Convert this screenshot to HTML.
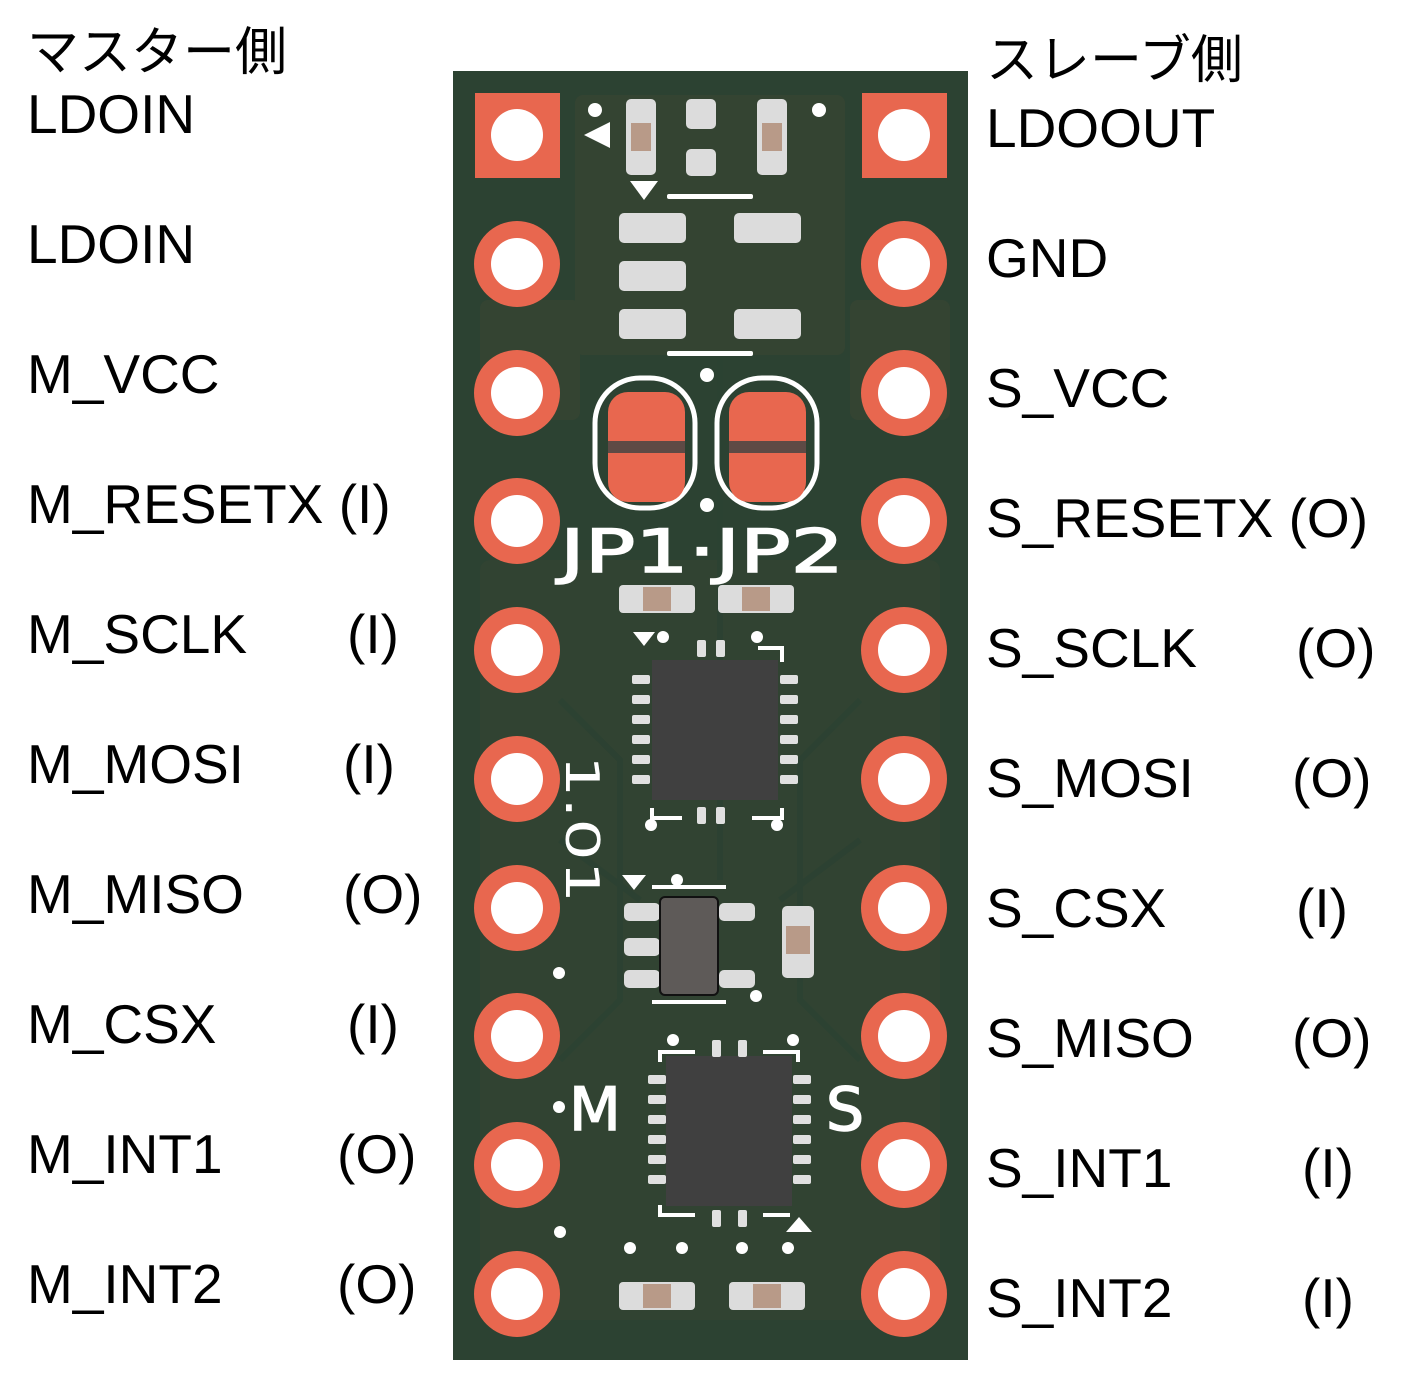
<!DOCTYPE html>
<html><head><meta charset="utf-8"><style>
html,body{margin:0;padding:0;background:#fff;}
body{width:1402px;height:1387px;position:relative;overflow:hidden;font-family:"Liberation Sans","Noto Sans CJK JP",sans-serif;}
.t{position:absolute;font-size:55px;line-height:1;color:#000;white-space:pre;}
svg{position:absolute;left:0;top:0;}
</style></head><body>
<svg width="1402" height="1387" viewBox="0 0 1402 1387">
<rect x="453" y="71" width="515" height="1289" fill="#2c4232"/>
<g fill="#3b4632" opacity="0.6">
<rect x="575" y="95" width="270" height="260" rx="8"/>
<rect x="480" y="300" width="100" height="120" rx="8"/>
<rect x="850" y="300" width="100" height="120" rx="8"/>
<rect x="480" y="560" width="460" height="760" rx="10" opacity="0.6"/>
</g>
<g stroke="#2c4232" stroke-width="6" fill="none" opacity="0.8">
<path d="M560 700 L620 760 L620 1000 L560 1060"/><path d="M860 700 L800 760 L800 1000 L860 1060"/>
<path d="M720 360 L720 880"/><path d="M560 840 L640 900"/><path d="M860 840 L780 900"/>
</g>
<g>
<rect x="475" y="93" width="85" height="85" fill="#e8674f"/>
<circle cx="517" cy="135" r="26" fill="#fff"/>
<rect x="862" y="93" width="85" height="85" fill="#e8674f"/>
<circle cx="904" cy="135" r="26" fill="#fff"/>
</g>
<g fill="#e8674f">
<circle cx="517" cy="264" r="43"/><circle cx="904" cy="264" r="43"/>
<circle cx="517" cy="393" r="43"/><circle cx="904" cy="393" r="43"/>
<circle cx="517" cy="521" r="43"/><circle cx="904" cy="521" r="43"/>
<circle cx="517" cy="650" r="43"/><circle cx="904" cy="650" r="43"/>
<circle cx="517" cy="779" r="43"/><circle cx="904" cy="779" r="43"/>
<circle cx="517" cy="908" r="43"/><circle cx="904" cy="908" r="43"/>
<circle cx="517" cy="1036" r="43"/><circle cx="904" cy="1036" r="43"/>
<circle cx="517" cy="1165" r="43"/><circle cx="904" cy="1165" r="43"/>
<circle cx="517" cy="1294" r="43"/><circle cx="904" cy="1294" r="43"/>
</g>
<g fill="#fff">
<circle cx="517" cy="264" r="26"/><circle cx="904" cy="264" r="26"/>
<circle cx="517" cy="393" r="26"/><circle cx="904" cy="393" r="26"/>
<circle cx="517" cy="521" r="26"/><circle cx="904" cy="521" r="26"/>
<circle cx="517" cy="650" r="26"/><circle cx="904" cy="650" r="26"/>
<circle cx="517" cy="779" r="26"/><circle cx="904" cy="779" r="26"/>
<circle cx="517" cy="908" r="26"/><circle cx="904" cy="908" r="26"/>
<circle cx="517" cy="1036" r="26"/><circle cx="904" cy="1036" r="26"/>
<circle cx="517" cy="1165" r="26"/><circle cx="904" cy="1165" r="26"/>
<circle cx="517" cy="1294" r="26"/><circle cx="904" cy="1294" r="26"/>
</g>
<g fill="#dcdcdc">
<rect x="626" y="99" width="30" height="76" rx="5"/>
<rect x="686" y="99" width="30" height="30" rx="5"/><rect x="686" y="149" width="30" height="27" rx="5"/>
<rect x="757" y="99" width="30" height="76" rx="5"/>
<rect x="619" y="213" width="67" height="30" rx="5"/><rect x="734" y="213" width="67" height="30" rx="5"/>
<rect x="619" y="261" width="67" height="30" rx="5"/>
<rect x="619" y="309" width="67" height="30" rx="5"/><rect x="734" y="309" width="67" height="30" rx="5"/>
</g>
<rect x="631" y="123" width="20" height="28" fill="#b89a88"/>
<rect x="762" y="123" width="20" height="28" fill="#b89a88"/>
<g fill="#fff">
<circle cx="595" cy="110" r="7"/><circle cx="819" cy="110" r="7"/>
<path d="M584 135 L610 122 L610 148 Z"/>
<path d="M630 181 L658 181 L644 200 Z"/>
<rect x="667" y="194" width="86" height="5" rx="2"/>
<rect x="667" y="351" width="86" height="5" rx="2"/>
<circle cx="707" cy="375" r="7"/><circle cx="707" cy="505" r="7"/>
</g>
<g fill="none" stroke="#fff" stroke-width="5">
<rect x="595" y="378" width="100" height="130" rx="45"/>
<rect x="717" y="378" width="100" height="130" rx="45"/>
</g>
<rect x="608" y="392" width="77" height="110" rx="20" fill="#e8674f"/>
<rect x="729" y="392" width="77" height="110" rx="20" fill="#e8674f"/>
<rect x="608" y="441" width="77" height="12" fill="#5e4a45"/>
<rect x="729" y="441" width="77" height="12" fill="#5e4a45"/>
<text x="560" y="572" font-family="DejaVu Sans, sans-serif" font-size="60" fill="#fff" stroke="#fff" stroke-width="1.5" textLength="284" lengthAdjust="spacingAndGlyphs">JP1·JP2</text>
<g>
<rect x="619" y="585" width="76" height="28" rx="4" fill="#dcdcdc"/><rect x="643" y="587" width="28" height="24" fill="#b89a88"/>
<rect x="718" y="585" width="76" height="28" rx="4" fill="#dcdcdc"/><rect x="742" y="587" width="28" height="24" fill="#b89a88"/>
<rect x="619" y="1282" width="76" height="28" rx="4" fill="#dcdcdc"/><rect x="643" y="1284" width="28" height="24" fill="#b89a88"/>
<rect x="729" y="1282" width="76" height="28" rx="4" fill="#dcdcdc"/><rect x="753" y="1284" width="28" height="24" fill="#b89a88"/>
<rect x="782" y="906" width="32" height="72" rx="5" fill="#dcdcdc"/><rect x="786" y="926" width="24" height="28" fill="#b89a88"/>
</g>
<rect x="652" y="660" width="126" height="140" fill="#404040"/>
<g fill="#e0e0e0">
<rect x="632" y="675" width="18" height="9" rx="2"/><rect x="632" y="695" width="18" height="9" rx="2"/><rect x="632" y="715" width="18" height="9" rx="2"/><rect x="632" y="735" width="18" height="9" rx="2"/><rect x="632" y="755" width="18" height="9" rx="2"/><rect x="632" y="775" width="18" height="9" rx="2"/>
<rect x="780" y="675" width="18" height="9" rx="2"/><rect x="780" y="695" width="18" height="9" rx="2"/><rect x="780" y="715" width="18" height="9" rx="2"/><rect x="780" y="735" width="18" height="9" rx="2"/><rect x="780" y="755" width="18" height="9" rx="2"/><rect x="780" y="775" width="18" height="9" rx="2"/>
<rect x="697" y="640" width="9" height="17" rx="2"/><rect x="716" y="640" width="9" height="17" rx="2"/>
<rect x="697" y="807" width="9" height="17" rx="2"/><rect x="716" y="807" width="9" height="17" rx="2"/>
</g>
<g fill="none" stroke="#fff" stroke-width="4">
<path d="M758 648 H782 V662"/><path d="M652 808 V818 H682"/><path d="M782 808 V818 H752"/>
</g>
<g fill="#fff"><path d="M633 632 L655 632 L644 646 Z"/><circle cx="663" cy="637" r="6"/><circle cx="757" cy="637" r="6"/><circle cx="651" cy="825" r="6"/><circle cx="777" cy="825" r="6"/></g>
<text transform="translate(566,755) rotate(90)" font-family="DejaVu Sans, sans-serif" font-size="46" fill="#fff" textLength="148" lengthAdjust="spacingAndGlyphs">1.01</text>
<g fill="#dcdcdc">
<rect x="624" y="903" width="36" height="18" rx="5"/><rect x="624" y="938" width="36" height="18" rx="5"/><rect x="624" y="970" width="36" height="18" rx="5"/>
<rect x="719" y="903" width="36" height="18" rx="5"/><rect x="719" y="970" width="36" height="18" rx="5"/>
</g>
<rect x="660" y="897" width="58" height="98" rx="5" fill="#5e5a58" stroke="#111" stroke-width="2"/>
<g fill="#fff"><path d="M622 875 L646 875 L634 890 Z"/><rect x="652" y="885" width="74" height="4"/><rect x="652" y="1000" width="74" height="4"/><circle cx="677" cy="880" r="6"/><circle cx="559" cy="973" r="6"/><circle cx="756" cy="996" r="6"/></g>
<rect x="666" y="1056" width="126" height="150" fill="#404040"/>
<g fill="#e0e0e0">
<rect x="648" y="1075" width="18" height="9" rx="2"/><rect x="648" y="1095" width="18" height="9" rx="2"/><rect x="648" y="1115" width="18" height="9" rx="2"/><rect x="648" y="1135" width="18" height="9" rx="2"/><rect x="648" y="1155" width="18" height="9" rx="2"/><rect x="648" y="1175" width="18" height="9" rx="2"/>
<rect x="793" y="1075" width="18" height="9" rx="2"/><rect x="793" y="1095" width="18" height="9" rx="2"/><rect x="793" y="1115" width="18" height="9" rx="2"/><rect x="793" y="1135" width="18" height="9" rx="2"/><rect x="793" y="1155" width="18" height="9" rx="2"/><rect x="793" y="1175" width="18" height="9" rx="2"/>
<rect x="712" y="1040" width="9" height="17" rx="2"/><rect x="738" y="1040" width="9" height="17" rx="2"/>
<rect x="712" y="1210" width="9" height="17" rx="2"/><rect x="738" y="1210" width="9" height="17" rx="2"/>
</g>
<g fill="none" stroke="#fff" stroke-width="4">
<path d="M660 1062 V1052 H695"/><path d="M763 1052 H798 V1062"/><path d="M660 1205 V1215 H695"/><path d="M763 1215 H790"/>
</g>
<g fill="#fff"><path d="M786 1232 L812 1232 L799 1217 Z"/><circle cx="673" cy="1040" r="6"/><circle cx="793" cy="1040" r="6"/><circle cx="560" cy="1232" r="6"/><circle cx="630" cy="1248" r="6"/><circle cx="682" cy="1248" r="6"/><circle cx="742" cy="1248" r="6"/><circle cx="788" cy="1248" r="6"/><circle cx="559" cy="1107" r="6"/></g>
<text x="569" y="1130" font-family="DejaVu Sans, sans-serif" font-size="60" fill="#fff" stroke="#fff" stroke-width="1.5">M</text>
<text x="826" y="1130" font-family="DejaVu Sans, sans-serif" font-size="60" fill="#fff" stroke="#fff" stroke-width="1.5">S</text>
</svg>

<div class="t" style="left:27px;top:27px;font-size:52px;">マスター側</div>
<div class="t" style="left:27px;top:87px">LDOIN</div>
<div class="t" style="left:27px;top:217px">LDOIN</div>
<div class="t" style="left:27px;top:347px">M_VCC</div>
<div class="t" style="left:27px;top:477px">M_RESETX (I)</div>
<div class="t" style="left:27px;top:607px">M_SCLK</div><div class="t" style="left:347px;top:607px">(I)</div>
<div class="t" style="left:27px;top:737px">M_MOSI</div><div class="t" style="left:343px;top:737px">(I)</div>
<div class="t" style="left:27px;top:867px">M_MISO</div><div class="t" style="left:343px;top:867px">(O)</div>
<div class="t" style="left:27px;top:997px">M_CSX</div><div class="t" style="left:347px;top:997px">(I)</div>
<div class="t" style="left:27px;top:1127px">M_INT1</div><div class="t" style="left:337px;top:1127px">(O)</div>
<div class="t" style="left:27px;top:1257px">M_INT2</div><div class="t" style="left:337px;top:1257px">(O)</div>

<div class="t" style="left:986px;top:35px;font-size:52px;">スレーブ側</div>
<div class="t" style="left:986px;top:101px">LDOOUT</div>
<div class="t" style="left:986px;top:231px">GND</div>
<div class="t" style="left:986px;top:361px">S_VCC</div>
<div class="t" style="left:986px;top:491px">S_RESETX (O)</div>
<div class="t" style="left:986px;top:621px">S_SCLK</div><div class="t" style="left:1296px;top:621px">(O)</div>
<div class="t" style="left:986px;top:751px">S_MOSI</div><div class="t" style="left:1292px;top:751px">(O)</div>
<div class="t" style="left:986px;top:881px">S_CSX</div><div class="t" style="left:1296px;top:881px">(I)</div>
<div class="t" style="left:986px;top:1011px">S_MISO</div><div class="t" style="left:1292px;top:1011px">(O)</div>
<div class="t" style="left:986px;top:1141px">S_INT1</div><div class="t" style="left:1302px;top:1141px">(I)</div>
<div class="t" style="left:986px;top:1271px">S_INT2</div><div class="t" style="left:1302px;top:1271px">(I)</div>
</body></html>
